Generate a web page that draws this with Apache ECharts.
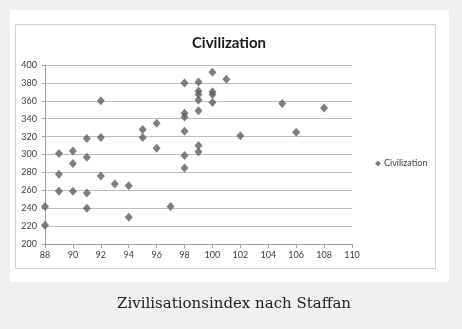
<!DOCTYPE html>
<html>
<head>
<meta charset="utf-8">
<script src="https://cdn.jsdelivr.net/npm/echarts@6/dist/echarts.min.js"></script>
<style>
  html, body { margin: 0; padding: 0; background: #f0f0f0; }
  #chart { width: 462px; height: 329px; }
</style>
</head>
<body>
<div id="chart"></div>
<script>
// Civilization index per score (x) and value (y)
const xValues = [
  88, 88,
  89, 89, 89,
  90, 90, 90,
  91, 91, 91, 91,
  92, 92, 92,
  93,
  94, 94,
  95, 95,
  96, 96,
  97,
  98, 98, 98, 98, 98, 98,
  99, 99, 99, 99, 99, 99, 99,
  100, 100, 100, 100,
  101, 102, 105, 106, 108
];
const yValues = [
  242, 221,
  301, 278, 259,
  304, 290, 259,
  318, 297, 257, 240,
  360, 319, 276,
  267,
  265, 230,
  328, 319,
  335, 307,
  242,
  380, 346, 342, 326, 299, 285,
  381, 371, 367, 361, 349, 310, 303,
  392, 370, 367, 358,
  384, 321, 357, 325, 352
];
const seriesName = 'Civilization';
const chartTitle = 'Civilization';
const caption = 'Zivilisationsindex nach Staffan';

const points = xValues.map((x, i) => [x, yValues[i]]);

const chart = echarts.init(document.getElementById('chart'));
chart.setOption({
  backgroundColor: '#f0f0f0',
  animation: false,
  graphic: [
    { type: 'rect', shape: { x: 10, y: 10, width: 439, height: 272 }, style: { fill: '#ffffff' }, z: -10 },
    { type: 'rect', shape: { x: 15.5, y: 24.5, width: 420, height: 244 }, style: { fill: '#ffffff', stroke: '#cfcfcf', lineWidth: 1 }, z: -9 }
  ],
  title: [
    {
      text: chartTitle, left: 224, top: 31, textAlign: 'center',
      textStyle: { fontFamily: 'Lato', fontWeight: 'bold', fontSize: 15, color: '#1a1a1a' }
    },
    {
      text: caption, left: 229, top: 292, textAlign: 'center',
      textStyle: { fontFamily: 'DejaVu Serif', fontWeight: 'normal', fontSize: 15, color: '#222222' }
    }
  ],
  legend: {
    data: [{ name: seriesName, icon: 'diamond' }],
    left: 370, top: 154, itemWidth: 6, itemHeight: 6, itemGap: 3,
    textStyle: { fontFamily: 'Lato', fontSize: 9, color: '#404040', padding: [0, 0, 0, -2] }
  },
  grid: { left: 45, right: 110, top: 65, bottom: 85 },
  xAxis: {
    type: 'value', min: 88, max: 110, interval: 2,
    axisLine: { show: true, lineStyle: { color: '#a0a0a0' } },
    axisTick: { show: true, length: 4, lineStyle: { color: '#a0a0a0' } },
    splitLine: { show: false },
    axisLabel: { fontFamily: 'Lato', fontSize: 9, color: '#404040', margin: 7 }
  },
  yAxis: {
    type: 'value', min: 200, max: 400, interval: 20,
    axisLine: { show: true, lineStyle: { color: '#a0a0a0' } },
    axisTick: { show: true, length: 3, lineStyle: { color: '#a0a0a0' } },
    splitLine: { show: true, lineStyle: { color: '#bdbdbd', width: 1 } },
    axisLabel: { fontFamily: 'Lato', fontSize: 9, color: '#404040', margin: 8 }
  },
  series: [{
    name: seriesName,
    type: 'scatter',
    symbol: 'diamond',
    symbolSize: [8, 9],
    itemStyle: { color: '#5f5f5f' },
    data: points
  }]
});
</script>
</body>
</html>
